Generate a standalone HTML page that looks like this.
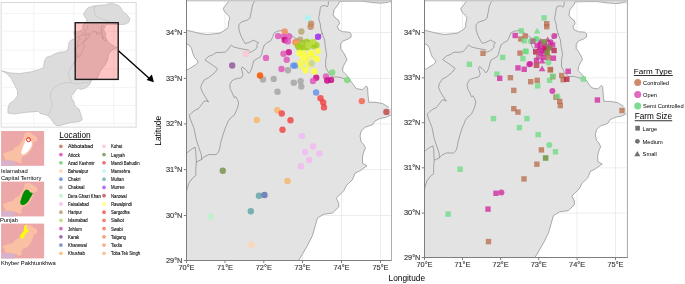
<!DOCTYPE html><html><head><meta charset="utf-8"><style>html,body{margin:0;padding:0;background:#fff;width:685px;height:284px;overflow:hidden}svg{display:block}text{font-family:"Liberation Sans",sans-serif}</style></head><body>
<svg width="685" height="284" viewBox="0 0 685 284">
<defs><clipPath id="cw"><polygon points="186.50,0.00 228.80,0.00 228.30,1.40 227.50,2.80 226.80,4.20 224.70,6.30 223.30,8.50 224.00,10.60 226.10,13.40 228.30,15.50 229.70,17.60 229.00,20.40 228.30,23.90 228.30,26.80 226.80,28.90 224.00,30.70 219.80,33.10 214.20,33.80 207.10,34.50 200.10,33.50 194.50,32.10 188.80,30.70 186.50,30.30"/><polygon points="186.50,44.00 189.00,44.80 191.30,48.00 192.70,53.00 194.50,57.50 197.50,60.50 198.00,62.50 195.50,64.80 192.00,67.00 188.50,69.20 186.50,70.00"/><polygon points="339.50,1.40 351.00,1.20 361.70,1.20 372.30,2.50 380.70,3.20 387.10,2.50 390.30,1.40 391.50,3.00 391.50,109.75 388.75,107.25 382.50,103.50 375.00,102.25 368.75,102.25 368.00,94.75 367.50,87.25 366.25,86.00 362.50,89.75 356.25,88.50 352.50,83.50 347.50,76.00 342.50,71.00 343.00,67.00 345.00,63.00 346.90,60.00 345.90,57.10 343.70,52.90 340.60,48.60 340.60,44.40 342.70,41.20 348.00,39.10 351.10,37.00 351.10,33.80 349.00,32.10 342.70,31.70 338.50,29.60 337.40,26.40 339.50,23.30 338.50,20.10 335.30,18.00 333.20,14.80 334.20,9.50 338.50,4.20"/><polygon points="391.50,114.75 386.25,117.25 380.00,118.50 375.00,121.00 372.50,124.75 365.00,127.25 361.25,131.00 360.00,136.00 361.25,142.00 363.75,144.50 365.50,148.25 363.75,152.00 362.50,157.00 362.50,163.25 367.00,165.75 360.00,170.75 355.00,173.25 352.50,179.50 346.25,185.75 343.75,190.75 336.25,198.25 338.75,203.25 338.75,207.00 332.50,213.00 323.75,214.25 317.50,218.00 312.50,235.50 307.50,245.50 299.00,260.00 391.50,260.00"/></clipPath><filter id="bl" x="0" y="0" width="685" height="284" filterUnits="userSpaceOnUse"><feGaussianBlur stdDeviation="0.35"/></filter></defs>
<g filter="url(#bl)">
<rect width="685" height="284" fill="#fff"/>
<g>
<rect x="186.5" y="0.0" width="205.0" height="260.0" fill="#E3E3E3"/>
<polygon points="186.50,0.00 228.80,0.00 228.30,1.40 227.50,2.80 226.80,4.20 224.70,6.30 223.30,8.50 224.00,10.60 226.10,13.40 228.30,15.50 229.70,17.60 229.00,20.40 228.30,23.90 228.30,26.80 226.80,28.90 224.00,30.70 219.80,33.10 214.20,33.80 207.10,34.50 200.10,33.50 194.50,32.10 188.80,30.70 186.50,30.30" fill="#FFFFFF"/>
<polygon points="186.50,44.00 189.00,44.80 191.30,48.00 192.70,53.00 194.50,57.50 197.50,60.50 198.00,62.50 195.50,64.80 192.00,67.00 188.50,69.20 186.50,70.00" fill="#FFFFFF"/>
<polygon points="339.50,1.40 351.00,1.20 361.70,1.20 372.30,2.50 380.70,3.20 387.10,2.50 390.30,1.40 391.50,3.00 391.50,109.75 388.75,107.25 382.50,103.50 375.00,102.25 368.75,102.25 368.00,94.75 367.50,87.25 366.25,86.00 362.50,89.75 356.25,88.50 352.50,83.50 347.50,76.00 342.50,71.00 343.00,67.00 345.00,63.00 346.90,60.00 345.90,57.10 343.70,52.90 340.60,48.60 340.60,44.40 342.70,41.20 348.00,39.10 351.10,37.00 351.10,33.80 349.00,32.10 342.70,31.70 338.50,29.60 337.40,26.40 339.50,23.30 338.50,20.10 335.30,18.00 333.20,14.80 334.20,9.50 338.50,4.20" fill="#FFFFFF"/>
<polygon points="391.50,114.75 386.25,117.25 380.00,118.50 375.00,121.00 372.50,124.75 365.00,127.25 361.25,131.00 360.00,136.00 361.25,142.00 363.75,144.50 365.50,148.25 363.75,152.00 362.50,157.00 362.50,163.25 367.00,165.75 360.00,170.75 355.00,173.25 352.50,179.50 346.25,185.75 343.75,190.75 336.25,198.25 338.75,203.25 338.75,207.00 332.50,213.00 323.75,214.25 317.50,218.00 312.50,235.50 307.50,245.50 299.00,260.00 391.50,260.00" fill="#FFFFFF"/>
<g clip-path="url(#cw)" stroke="#EBEBEB" stroke-width="0.9"><line x1="225.00" y1="0" x2="225.00" y2="260"/><line x1="263.80" y1="0" x2="263.80" y2="260"/><line x1="302.50" y1="0" x2="302.50" y2="260"/><line x1="341.50" y1="0" x2="341.50" y2="260"/><line x1="380.50" y1="0" x2="380.50" y2="260"/><line x1="186.5" y1="215.50" x2="391.5" y2="215.50"/><line x1="186.5" y1="169.60" x2="391.5" y2="169.60"/><line x1="186.5" y1="123.90" x2="391.5" y2="123.90"/><line x1="186.5" y1="78.40" x2="391.5" y2="78.40"/><line x1="186.5" y1="32.50" x2="391.5" y2="32.50"/></g>
<polyline points="228.80,0.00 228.30,1.40 227.50,2.80 226.80,4.20 224.70,6.30 223.30,8.50 224.00,10.60 226.10,13.40 228.30,15.50 229.70,17.60 229.00,20.40 228.30,23.90 228.30,26.80 226.80,28.90 224.00,30.70 219.80,33.10 214.20,33.80 207.10,34.50 200.10,33.50 194.50,32.10 188.80,30.70 186.50,30.30" fill="none" stroke="#6C6C6C" stroke-width="0.55"/>
<polyline points="186.50,44.00 189.00,44.80 191.30,48.00 192.70,53.00 194.50,57.50 197.50,60.50 198.00,62.50 195.50,64.80 192.00,67.00 188.50,69.20 186.50,70.00" fill="none" stroke="#6C6C6C" stroke-width="0.55"/>
<polyline points="339.50,1.40 351.00,1.20 361.70,1.20 372.30,2.50 380.70,3.20 387.10,2.50 390.30,1.40 391.50,3.00" fill="none" stroke="#6C6C6C" stroke-width="0.55"/>
<polyline points="388.75,107.25 382.50,103.50 375.00,102.25 368.75,102.25 368.00,94.75 367.50,87.25 366.25,86.00 362.50,89.75 356.25,88.50 352.50,83.50 347.50,76.00 342.50,71.00 343.00,67.00 345.00,63.00 346.90,60.00 345.90,57.10 343.70,52.90 340.60,48.60 340.60,44.40 342.70,41.20 348.00,39.10 351.10,37.00 351.10,33.80 349.00,32.10 342.70,31.70 338.50,29.60 337.40,26.40 339.50,23.30 338.50,20.10 335.30,18.00 333.20,14.80 334.20,9.50 338.50,4.20 339.50,1.40" fill="none" stroke="#6C6C6C" stroke-width="0.55"/>
<polyline points="391.50,114.75 386.25,117.25 380.00,118.50 375.00,121.00 372.50,124.75 365.00,127.25 361.25,131.00 360.00,136.00 361.25,142.00 363.75,144.50 365.50,148.25 363.75,152.00 362.50,157.00 362.50,163.25 367.00,165.75 360.00,170.75 355.00,173.25 352.50,179.50 346.25,185.75 343.75,190.75 336.25,198.25 338.75,203.25 338.75,207.00 332.50,213.00 323.75,214.25 317.50,218.00 312.50,235.50 307.50,245.50 299.00,260.00" fill="none" stroke="#6C6C6C" stroke-width="0.55"/>
<polyline points="255.00,0.50 252.50,5.00 251.20,12.00 250.00,18.00 247.50,20.00 241.20,22.00 238.70,25.00 239.10,30.30 240.80,35.60 243.50,40.80 245.20,43.50 248.80,42.60 252.30,40.80 254.00,40.00 255.80,41.70 258.50,42.60 256.70,45.20 257.20,47.00 256.30,48.50 252.80,51.20 248.40,52.90" fill="none" stroke="#6C6C6C" stroke-width="0.55"/>
<polyline points="205.00,60.00 208.75,56.25 212.50,55.00 216.25,52.50 221.25,52.50 225.50,52.00 228.20,49.40 229.90,46.80 231.25,45.00 233.75,47.00 236.10,47.60 239.60,48.50 244.90,49.40 249.30,50.30" fill="none" stroke="#6C6C6C" stroke-width="0.55"/>
<polyline points="205.00,60.00 208.75,62.50 212.50,65.00 217.50,68.75 215.00,72.50 208.75,77.50 204.20,80.00 201.60,84.40 200.70,87.90 202.50,92.30 205.10,96.70 208.60,102.00 206.00,100.80 204.20,101.10 201.60,104.60 198.10,109.00 195.40,109.90 191.90,112.60 189.30,115.20 190.20,118.70 191.90,123.10 193.70,127.50 194.40,130.00 196.30,139.90 198.80,147.30 201.30,154.60 201.70,159.50 203.70,157.10 208.60,154.60 216.00,154.60 218.50,152.20 219.70,148.50 220.50,143.60 222.20,137.40 224.50,130.00 226.30,125.80 228.00,121.40 230.70,117.90 234.20,115.20 235.90,111.70 237.70,107.30 238.60,102.90 237.70,100.20 235.90,96.70 234.20,97.60 232.40,93.20 230.10,88.80 229.90,84.60 231.70,81.10 234.30,79.30 237.80,78.50 241.40,77.60 243.10,74.90 242.20,71.40 241.40,68.80 242.20,67.00 244.90,68.80 246.60,70.50 248.40,73.20 250.20,72.30 251.90,67.90 252.80,64.40 253.70,60.80 256.30,59.10 259.90,57.30 261.60,54.70 262.50,50.30 264.30,45.00 267.30,42.60 270.80,40.80 272.50,37.30 274.30,32.90 277.60,31.10 283.00,30.50 288.00,33.00 292.60,36.40 295.20,38.20 297.90,39.10 296.00,42.00 295.20,45.20 297.00,48.80 297.90,51.40" fill="none" stroke="#6C6C6C" stroke-width="0.55"/>
<polyline points="186.50,153.40 188.90,151.00 192.60,148.50 195.10,147.30 195.80,151.00 196.30,162.00 195.80,169.40 195.80,175.60 192.60,178.10 188.90,183.00 187.00,189.20 186.50,191.60" fill="none" stroke="#6C6C6C" stroke-width="0.55"/>
<polyline points="196.30,162.00 201.70,159.50" fill="none" stroke="#6C6C6C" stroke-width="0.55"/>
<polyline points="328.50,1.00 328.20,5.00 326.90,7.00 325.40,5.50 321.40,6.00 320.30,8.00 319.80,12.00 319.30,15.00 318.70,17.50 319.00,20.00 320.30,24.00 320.60,28.00 321.40,31.00 322.20,33.00 323.00,36.00 324.60,40.00 325.00,45.00 326.70,54.60 325.70,60.30 325.70,67.30 329.20,73.50 332.70,77.00 338.00,77.00 342.00,78.00 345.50,79.00" fill="none" stroke="#6C6C6C" stroke-width="0.55"/>
<polyline points="322.20,33.00 318.00,37.50 313.00,41.00 308.00,40.50 303.00,41.00 297.90,39.10" fill="none" stroke="#6C6C6C" stroke-width="0.55"/>
<circle cx="245.8" cy="53.7" r="3.2" fill="#FFC2CE" fill-opacity="0.8"/>
<circle cx="232.2" cy="65.5" r="3.2" fill="#8E4E9E" fill-opacity="0.8"/>
<circle cx="266.0" cy="57.9" r="3.2" fill="#E04FB8" fill-opacity="0.8"/>
<circle cx="263.0" cy="79.5" r="3.2" fill="#A6A6A6" fill-opacity="0.85"/>
<circle cx="273.7" cy="78.9" r="3.2" fill="#A6A6A6" fill-opacity="0.85"/>
<circle cx="277.5" cy="91.7" r="3.2" fill="#A6A6A6" fill-opacity="0.85"/>
<circle cx="293.8" cy="82.7" r="3.2" fill="#A6A6A6" fill-opacity="0.85"/>
<circle cx="300.6" cy="81.3" r="3.2" fill="#A6A6A6" fill-opacity="0.85"/>
<circle cx="301.3" cy="86.6" r="3.2" fill="#A6A6A6" fill-opacity="0.85"/>
<circle cx="316.2" cy="77.7" r="3.2" fill="#C80E88" fill-opacity="0.85"/>
<circle cx="313.0" cy="81.0" r="3.2" fill="#E04FB8" fill-opacity="0.8"/>
<circle cx="326.0" cy="76.5" r="3.2" fill="#E04FB8" fill-opacity="0.8"/>
<circle cx="327.2" cy="80.5" r="3.2" fill="#C80E88" fill-opacity="0.85"/>
<circle cx="331.0" cy="79.9" r="3.2" fill="#C80E88" fill-opacity="0.85"/>
<circle cx="332.2" cy="72.4" r="3.2" fill="#74D874" fill-opacity="0.8"/>
<circle cx="347.2" cy="80.1" r="3.2" fill="#74D874" fill-opacity="0.8"/>
<circle cx="316.1" cy="92.5" r="3.2" fill="#5F8FE6" fill-opacity="0.8"/>
<circle cx="320.5" cy="98.2" r="3.2" fill="#F42C2C" fill-opacity="0.72"/>
<circle cx="323.2" cy="102.4" r="3.2" fill="#F42C2C" fill-opacity="0.72"/>
<circle cx="324.0" cy="107.4" r="3.2" fill="#F42C2C" fill-opacity="0.72"/>
<circle cx="277.3" cy="110.3" r="3.2" fill="#F8B464" fill-opacity="0.8"/>
<circle cx="281.8" cy="113.5" r="3.2" fill="#F42C2C" fill-opacity="0.72"/>
<circle cx="290.5" cy="120.2" r="3.2" fill="#F42C2C" fill-opacity="0.72"/>
<circle cx="256.8" cy="120.0" r="3.2" fill="#F8B464" fill-opacity="0.8"/>
<circle cx="282.5" cy="129.7" r="3.2" fill="#F42C2C" fill-opacity="0.72"/>
<circle cx="301.9" cy="136.0" r="3.2" fill="#F2B6F2" fill-opacity="0.8"/>
<circle cx="361.8" cy="101.1" r="3.2" fill="#F45E48" fill-opacity="0.8"/>
<circle cx="386.4" cy="111.9" r="3.2" fill="#BC4444" fill-opacity="0.8"/>
<circle cx="222.8" cy="170.8" r="3.2" fill="#728E4A" fill-opacity="0.8"/>
<circle cx="313.0" cy="146.5" r="3.2" fill="#F2B6F2" fill-opacity="0.8"/>
<circle cx="305.1" cy="152.0" r="3.2" fill="#F2B6F2" fill-opacity="0.8"/>
<circle cx="319.4" cy="153.5" r="3.2" fill="#F2B6F2" fill-opacity="0.8"/>
<circle cx="309.2" cy="160.0" r="3.2" fill="#F2B6F2" fill-opacity="0.8"/>
<circle cx="300.9" cy="166.2" r="3.2" fill="#F2B6F2" fill-opacity="0.8"/>
<circle cx="287.5" cy="181.0" r="3.2" fill="#F8B464" fill-opacity="0.8"/>
<circle cx="259.0" cy="195.8" r="3.2" fill="#58A4A4" fill-opacity="0.8"/>
<circle cx="264.5" cy="195.0" r="3.2" fill="#5A6EAE" fill-opacity="0.8"/>
<circle cx="250.8" cy="211.3" r="3.2" fill="#58A4A4" fill-opacity="0.8"/>
<circle cx="211.0" cy="216.8" r="3.2" fill="#B6F2C6" fill-opacity="0.8"/>
<circle cx="251.5" cy="244.8" r="3.2" fill="#FFD2AE" fill-opacity="0.8"/>
<circle cx="307.9" cy="17.9" r="3.2" fill="#A6F4F4" fill-opacity="0.8"/>
<circle cx="311.1" cy="23.7" r="3.2" fill="#C4865E" fill-opacity="0.8"/>
<circle cx="310.6" cy="26.7" r="3.2" fill="#C4865E" fill-opacity="0.8"/>
<circle cx="318.1" cy="36.8" r="3.2" fill="#9A1EF2" fill-opacity="0.8"/>
<circle cx="301.4" cy="31.5" r="3.2" fill="#B4A46A" fill-opacity="0.8"/>
<circle cx="300.2" cy="39.6" r="3.2" fill="#B4A46A" fill-opacity="0.8"/>
<circle cx="284.7" cy="31.5" r="3.2" fill="#F48C58" fill-opacity="0.8"/>
<circle cx="278.1" cy="36.1" r="3.2" fill="#E04FB8" fill-opacity="0.8"/>
<circle cx="283.8" cy="36.8" r="3.2" fill="#E04FB8" fill-opacity="0.8"/>
<circle cx="289.1" cy="36.4" r="3.2" fill="#E04FB8" fill-opacity="0.8"/>
<circle cx="284.7" cy="40.0" r="3.2" fill="#C80E88" fill-opacity="0.85"/>
<circle cx="287.8" cy="41.4" r="3.2" fill="#E04FB8" fill-opacity="0.8"/>
<circle cx="295.5" cy="42.3" r="3.2" fill="#F97A3A" fill-opacity="0.8"/>
<circle cx="297.0" cy="43.4" r="3.2" fill="#F8A060" fill-opacity="0.8"/>
<circle cx="293.3" cy="65.6" r="3.2" fill="#5F8FE6" fill-opacity="0.8"/>
<circle cx="295.4" cy="65.6" r="3.2" fill="#5F8FE6" fill-opacity="0.8"/>
<circle cx="287.9" cy="70.2" r="3.2" fill="#A6A6A6" fill-opacity="0.85"/>
<circle cx="281.5" cy="69.0" r="3.2" fill="#E04FB8" fill-opacity="0.8"/>
<circle cx="288.8" cy="52.2" r="3.2" fill="#C80E88" fill-opacity="0.85"/>
<circle cx="283.5" cy="53.8" r="3.2" fill="#E04FB8" fill-opacity="0.8"/>
<circle cx="286.7" cy="59.7" r="3.2" fill="#E04FB8" fill-opacity="0.8"/>
<circle cx="260.0" cy="75.5" r="3.2" fill="#FA5A00" fill-opacity="0.9"/>
<circle cx="297.9" cy="46.1" r="3.2" fill="#9CCC14" fill-opacity="0.75"/>
<circle cx="302.3" cy="43.5" r="3.2" fill="#9CCC14" fill-opacity="0.75"/>
<circle cx="306.7" cy="41.7" r="3.2" fill="#9CCC14" fill-opacity="0.75"/>
<circle cx="310.2" cy="44.4" r="3.2" fill="#9CCC14" fill-opacity="0.75"/>
<circle cx="313.7" cy="46.1" r="3.2" fill="#9CCC14" fill-opacity="0.75"/>
<circle cx="316.4" cy="45.2" r="3.2" fill="#9CCC14" fill-opacity="0.75"/>
<circle cx="304" cy="47.9" r="3.2" fill="#9CCC14" fill-opacity="0.75"/>
<circle cx="307.6" cy="47" r="3.2" fill="#9CCC14" fill-opacity="0.75"/>
<circle cx="300.5" cy="47.9" r="3.2" fill="#9CCC14" fill-opacity="0.75"/>
<circle cx="313.5" cy="43" r="3.2" fill="#9CCC14" fill-opacity="0.75"/>
<circle cx="312.9" cy="41.7" r="3.2" fill="#C4DE48" fill-opacity="0.8"/>
<circle cx="308.5" cy="45.5" r="3.2" fill="#C4DE48" fill-opacity="0.8"/>
<circle cx="300.2" cy="62.6" r="3.2" fill="#F8F84E" fill-opacity="0.8"/>
<circle cx="306.4" cy="61.7" r="3.2" fill="#F8F84E" fill-opacity="0.8"/>
<circle cx="301.1" cy="66.1" r="3.2" fill="#F8F84E" fill-opacity="0.8"/>
<circle cx="307" cy="57" r="3.2" fill="#F8F84E" fill-opacity="0.8"/>
<circle cx="309" cy="65" r="3.2" fill="#F8F84E" fill-opacity="0.8"/>
<circle cx="304" cy="53" r="3.2" fill="#F8F84E" fill-opacity="0.8"/>
<circle cx="313" cy="56.5" r="3.2" fill="#F8F84E" fill-opacity="0.8"/>
<circle cx="311.7" cy="63.5" r="3.2" fill="#C6D88A" fill-opacity="0.9"/>
<circle cx="299.4" cy="52.9" r="3.2" fill="#FFFF30" fill-opacity="0.8"/>
<circle cx="302.9" cy="57.3" r="3.2" fill="#FFFF30" fill-opacity="0.8"/>
<circle cx="310.8" cy="52.9" r="3.2" fill="#FFFF30" fill-opacity="0.8"/>
<circle cx="317.9" cy="51.1" r="3.2" fill="#FFFF30" fill-opacity="0.8"/>
<circle cx="317" cy="59" r="3.2" fill="#FFFF30" fill-opacity="0.8"/>
<circle cx="305.5" cy="70.5" r="3.2" fill="#FFFF30" fill-opacity="0.8"/>
<circle cx="314.3" cy="71.4" r="3.2" fill="#FFFF30" fill-opacity="0.8"/>
</g>
<rect x="186" y="0" width="206" height="1.4" fill="#C8C8C8"/>
<rect x="391" y="0" width="1" height="260.5" fill="#AEAEAE"/>
<rect x="186" y="0" width="1" height="261" fill="#7E7E7E"/>
<rect x="186" y="260" width="205.5" height="1" fill="#7E7E7E"/>
<rect x="186.00" y="260.5" width="1" height="2.6" fill="#7E7E7E"/>
<text x="186.50" y="269.9" font-size="7.35" fill="#383838" stroke="#383838" stroke-width="0.15" text-anchor="middle">70°E</text>
<rect x="224.50" y="260.5" width="1" height="2.6" fill="#7E7E7E"/>
<text x="225.00" y="269.9" font-size="7.35" fill="#383838" stroke="#383838" stroke-width="0.15" text-anchor="middle">71°E</text>
<rect x="263.30" y="260.5" width="1" height="2.6" fill="#7E7E7E"/>
<text x="263.80" y="269.9" font-size="7.35" fill="#383838" stroke="#383838" stroke-width="0.15" text-anchor="middle">72°E</text>
<rect x="302.00" y="260.5" width="1" height="2.6" fill="#7E7E7E"/>
<text x="302.50" y="269.9" font-size="7.35" fill="#383838" stroke="#383838" stroke-width="0.15" text-anchor="middle">73°E</text>
<rect x="341.00" y="260.5" width="1" height="2.6" fill="#7E7E7E"/>
<text x="341.50" y="269.9" font-size="7.35" fill="#383838" stroke="#383838" stroke-width="0.15" text-anchor="middle">74°E</text>
<rect x="380.00" y="260.5" width="1" height="2.6" fill="#7E7E7E"/>
<text x="380.50" y="269.9" font-size="7.35" fill="#383838" stroke="#383838" stroke-width="0.15" text-anchor="middle">75°E</text>
<rect x="183.8" y="260.00" width="2.7" height="1" fill="#7E7E7E"/>
<text x="182.4" y="262.60" font-size="7.35" fill="#383838" stroke="#383838" stroke-width="0.15" text-anchor="end">29°N</text>
<rect x="183.8" y="215.00" width="2.7" height="1" fill="#7E7E7E"/>
<text x="182.4" y="217.60" font-size="7.35" fill="#383838" stroke="#383838" stroke-width="0.15" text-anchor="end">30°N</text>
<rect x="183.8" y="169.10" width="2.7" height="1" fill="#7E7E7E"/>
<text x="182.4" y="171.70" font-size="7.35" fill="#383838" stroke="#383838" stroke-width="0.15" text-anchor="end">31°N</text>
<rect x="183.8" y="123.40" width="2.7" height="1" fill="#7E7E7E"/>
<text x="182.4" y="126.00" font-size="7.35" fill="#383838" stroke="#383838" stroke-width="0.15" text-anchor="end">32°N</text>
<rect x="183.8" y="77.90" width="2.7" height="1" fill="#7E7E7E"/>
<text x="182.4" y="80.50" font-size="7.35" fill="#383838" stroke="#383838" stroke-width="0.15" text-anchor="end">33°N</text>
<rect x="183.8" y="32.00" width="2.7" height="1" fill="#7E7E7E"/>
<text x="182.4" y="34.60" font-size="7.35" fill="#383838" stroke="#383838" stroke-width="0.15" text-anchor="end">34°N</text>
<g transform="translate(424.5,257.5) scale(0.9845,0.9868) translate(-186.5,-260.5)">
<rect x="186.5" y="0.0" width="205.0" height="260.0" fill="#E3E3E3"/>
<polygon points="186.50,0.00 228.80,0.00 228.30,1.40 227.50,2.80 226.80,4.20 224.70,6.30 223.30,8.50 224.00,10.60 226.10,13.40 228.30,15.50 229.70,17.60 229.00,20.40 228.30,23.90 228.30,26.80 226.80,28.90 224.00,30.70 219.80,33.10 214.20,33.80 207.10,34.50 200.10,33.50 194.50,32.10 188.80,30.70 186.50,30.30" fill="#FFFFFF"/>
<polygon points="186.50,44.00 189.00,44.80 191.30,48.00 192.70,53.00 194.50,57.50 197.50,60.50 198.00,62.50 195.50,64.80 192.00,67.00 188.50,69.20 186.50,70.00" fill="#FFFFFF"/>
<polygon points="339.50,1.40 351.00,1.20 361.70,1.20 372.30,2.50 380.70,3.20 387.10,2.50 390.30,1.40 391.50,3.00 391.50,109.75 388.75,107.25 382.50,103.50 375.00,102.25 368.75,102.25 368.00,94.75 367.50,87.25 366.25,86.00 362.50,89.75 356.25,88.50 352.50,83.50 347.50,76.00 342.50,71.00 343.00,67.00 345.00,63.00 346.90,60.00 345.90,57.10 343.70,52.90 340.60,48.60 340.60,44.40 342.70,41.20 348.00,39.10 351.10,37.00 351.10,33.80 349.00,32.10 342.70,31.70 338.50,29.60 337.40,26.40 339.50,23.30 338.50,20.10 335.30,18.00 333.20,14.80 334.20,9.50 338.50,4.20" fill="#FFFFFF"/>
<polygon points="391.50,114.75 386.25,117.25 380.00,118.50 375.00,121.00 372.50,124.75 365.00,127.25 361.25,131.00 360.00,136.00 361.25,142.00 363.75,144.50 365.50,148.25 363.75,152.00 362.50,157.00 362.50,163.25 367.00,165.75 360.00,170.75 355.00,173.25 352.50,179.50 346.25,185.75 343.75,190.75 336.25,198.25 338.75,203.25 338.75,207.00 332.50,213.00 323.75,214.25 317.50,218.00 312.50,235.50 307.50,245.50 299.00,260.00 391.50,260.00" fill="#FFFFFF"/>
<g clip-path="url(#cw)" stroke="#EBEBEB" stroke-width="0.9"><line x1="225.00" y1="0" x2="225.00" y2="260"/><line x1="263.80" y1="0" x2="263.80" y2="260"/><line x1="302.50" y1="0" x2="302.50" y2="260"/><line x1="341.50" y1="0" x2="341.50" y2="260"/><line x1="380.50" y1="0" x2="380.50" y2="260"/><line x1="186.5" y1="215.50" x2="391.5" y2="215.50"/><line x1="186.5" y1="169.60" x2="391.5" y2="169.60"/><line x1="186.5" y1="123.90" x2="391.5" y2="123.90"/><line x1="186.5" y1="78.40" x2="391.5" y2="78.40"/><line x1="186.5" y1="32.50" x2="391.5" y2="32.50"/></g>
<polyline points="228.80,0.00 228.30,1.40 227.50,2.80 226.80,4.20 224.70,6.30 223.30,8.50 224.00,10.60 226.10,13.40 228.30,15.50 229.70,17.60 229.00,20.40 228.30,23.90 228.30,26.80 226.80,28.90 224.00,30.70 219.80,33.10 214.20,33.80 207.10,34.50 200.10,33.50 194.50,32.10 188.80,30.70 186.50,30.30" fill="none" stroke="#6C6C6C" stroke-width="0.55"/>
<polyline points="186.50,44.00 189.00,44.80 191.30,48.00 192.70,53.00 194.50,57.50 197.50,60.50 198.00,62.50 195.50,64.80 192.00,67.00 188.50,69.20 186.50,70.00" fill="none" stroke="#6C6C6C" stroke-width="0.55"/>
<polyline points="339.50,1.40 351.00,1.20 361.70,1.20 372.30,2.50 380.70,3.20 387.10,2.50 390.30,1.40 391.50,3.00" fill="none" stroke="#6C6C6C" stroke-width="0.55"/>
<polyline points="388.75,107.25 382.50,103.50 375.00,102.25 368.75,102.25 368.00,94.75 367.50,87.25 366.25,86.00 362.50,89.75 356.25,88.50 352.50,83.50 347.50,76.00 342.50,71.00 343.00,67.00 345.00,63.00 346.90,60.00 345.90,57.10 343.70,52.90 340.60,48.60 340.60,44.40 342.70,41.20 348.00,39.10 351.10,37.00 351.10,33.80 349.00,32.10 342.70,31.70 338.50,29.60 337.40,26.40 339.50,23.30 338.50,20.10 335.30,18.00 333.20,14.80 334.20,9.50 338.50,4.20 339.50,1.40" fill="none" stroke="#6C6C6C" stroke-width="0.55"/>
<polyline points="391.50,114.75 386.25,117.25 380.00,118.50 375.00,121.00 372.50,124.75 365.00,127.25 361.25,131.00 360.00,136.00 361.25,142.00 363.75,144.50 365.50,148.25 363.75,152.00 362.50,157.00 362.50,163.25 367.00,165.75 360.00,170.75 355.00,173.25 352.50,179.50 346.25,185.75 343.75,190.75 336.25,198.25 338.75,203.25 338.75,207.00 332.50,213.00 323.75,214.25 317.50,218.00 312.50,235.50 307.50,245.50 299.00,260.00" fill="none" stroke="#6C6C6C" stroke-width="0.55"/>
<polyline points="255.00,0.50 252.50,5.00 251.20,12.00 250.00,18.00 247.50,20.00 241.20,22.00 238.70,25.00 239.10,30.30 240.80,35.60 243.50,40.80 245.20,43.50 248.80,42.60 252.30,40.80 254.00,40.00 255.80,41.70 258.50,42.60 256.70,45.20 257.20,47.00 256.30,48.50 252.80,51.20 248.40,52.90" fill="none" stroke="#6C6C6C" stroke-width="0.55"/>
<polyline points="205.00,60.00 208.75,56.25 212.50,55.00 216.25,52.50 221.25,52.50 225.50,52.00 228.20,49.40 229.90,46.80 231.25,45.00 233.75,47.00 236.10,47.60 239.60,48.50 244.90,49.40 249.30,50.30" fill="none" stroke="#6C6C6C" stroke-width="0.55"/>
<polyline points="205.00,60.00 208.75,62.50 212.50,65.00 217.50,68.75 215.00,72.50 208.75,77.50 204.20,80.00 201.60,84.40 200.70,87.90 202.50,92.30 205.10,96.70 208.60,102.00 206.00,100.80 204.20,101.10 201.60,104.60 198.10,109.00 195.40,109.90 191.90,112.60 189.30,115.20 190.20,118.70 191.90,123.10 193.70,127.50 194.40,130.00 196.30,139.90 198.80,147.30 201.30,154.60 201.70,159.50 203.70,157.10 208.60,154.60 216.00,154.60 218.50,152.20 219.70,148.50 220.50,143.60 222.20,137.40 224.50,130.00 226.30,125.80 228.00,121.40 230.70,117.90 234.20,115.20 235.90,111.70 237.70,107.30 238.60,102.90 237.70,100.20 235.90,96.70 234.20,97.60 232.40,93.20 230.10,88.80 229.90,84.60 231.70,81.10 234.30,79.30 237.80,78.50 241.40,77.60 243.10,74.90 242.20,71.40 241.40,68.80 242.20,67.00 244.90,68.80 246.60,70.50 248.40,73.20 250.20,72.30 251.90,67.90 252.80,64.40 253.70,60.80 256.30,59.10 259.90,57.30 261.60,54.70 262.50,50.30 264.30,45.00 267.30,42.60 270.80,40.80 272.50,37.30 274.30,32.90 277.60,31.10 283.00,30.50 288.00,33.00 292.60,36.40 295.20,38.20 297.90,39.10 296.00,42.00 295.20,45.20 297.00,48.80 297.90,51.40" fill="none" stroke="#6C6C6C" stroke-width="0.55"/>
<polyline points="186.50,153.40 188.90,151.00 192.60,148.50 195.10,147.30 195.80,151.00 196.30,162.00 195.80,169.40 195.80,175.60 192.60,178.10 188.90,183.00 187.00,189.20 186.50,191.60" fill="none" stroke="#6C6C6C" stroke-width="0.55"/>
<polyline points="196.30,162.00 201.70,159.50" fill="none" stroke="#6C6C6C" stroke-width="0.55"/>
<polyline points="328.50,1.00 328.20,5.00 326.90,7.00 325.40,5.50 321.40,6.00 320.30,8.00 319.80,12.00 319.30,15.00 318.70,17.50 319.00,20.00 320.30,24.00 320.60,28.00 321.40,31.00 322.20,33.00 323.00,36.00 324.60,40.00 325.00,45.00 326.70,54.60 325.70,60.30 325.70,67.30 329.20,73.50 332.70,77.00 338.00,77.00 342.00,78.00 345.50,79.00" fill="none" stroke="#6C6C6C" stroke-width="0.55"/>
<polyline points="322.20,33.00 318.00,37.50 313.00,41.00 308.00,40.50 303.00,41.00 297.90,39.10" fill="none" stroke="#6C6C6C" stroke-width="0.55"/>
</g>
<rect x="480.30" y="50.60" width="5.4" height="5.4" fill="#B86A48" fill-opacity="0.75"/>
<rect x="466.70" y="61.60" width="5.4" height="5.4" fill="#6ADB80" fill-opacity="0.75"/>
<rect x="500.00" y="54.70" width="5.4" height="5.4" fill="#6ADB80" fill-opacity="0.75"/>
<rect x="494.20" y="71.40" width="5.4" height="5.4" fill="#6ADB80" fill-opacity="0.75"/>
<rect x="497.00" y="75.60" width="5.4" height="5.4" fill="#D0209C" fill-opacity="0.75"/>
<rect x="507.70" y="75.00" width="5.4" height="5.4" fill="#B86A48" fill-opacity="0.75"/>
<rect x="511.10" y="87.70" width="5.4" height="5.4" fill="#B86A48" fill-opacity="0.75"/>
<rect x="515.30" y="65.20" width="5.4" height="5.4" fill="#D0209C" fill-opacity="0.75"/>
<rect x="521.50" y="66.60" width="5.4" height="5.4" fill="#D0209C" fill-opacity="0.75"/>
<circle cx="529.3" cy="64.2" r="3" fill="#D0209C" fill-opacity="0.75"/>
<rect x="528.00" y="79.00" width="5.4" height="5.4" fill="#B86A48" fill-opacity="0.75"/>
<rect x="534.50" y="77.60" width="5.4" height="5.4" fill="#B86A48" fill-opacity="0.75"/>
<rect x="535.00" y="83.20" width="5.4" height="5.4" fill="#6ADB80" fill-opacity="0.75"/>
<rect x="546.90" y="77.60" width="5.4" height="5.4" fill="#6ADB80" fill-opacity="0.75"/>
<rect x="547.60" y="67.20" width="5.4" height="5.4" fill="#B86A48" fill-opacity="0.75"/>
<rect x="550.10" y="74.00" width="5.4" height="5.4" fill="#B86A48" fill-opacity="0.75"/>
<rect x="550.00" y="73.60" width="5.4" height="5.4" fill="#6ADB80" fill-opacity="0.75"/>
<circle cx="552.4" cy="91.0" r="3" fill="#D0209C" fill-opacity="0.75"/>
<rect x="553.30" y="94.50" width="5.4" height="5.4" fill="#B86A48" fill-opacity="0.75"/>
<circle cx="557.5" cy="96.6" r="3" fill="#6ADB80" fill-opacity="0.75"/>
<rect x="557.00" y="98.70" width="5.4" height="5.4" fill="#B86A48" fill-opacity="0.75"/>
<rect x="557.60" y="102.90" width="5.4" height="5.4" fill="#B86A48" fill-opacity="0.75"/>
<rect x="559.00" y="72.80" width="5.4" height="5.4" fill="#B86A48" fill-opacity="0.75"/>
<rect x="560.40" y="77.00" width="5.4" height="5.4" fill="#B86A48" fill-opacity="0.75"/>
<rect x="564.10" y="76.50" width="5.4" height="5.4" fill="#B8163E" fill-opacity="0.75"/>
<rect x="565.50" y="68.60" width="5.4" height="5.4" fill="#D0209C" fill-opacity="0.75"/>
<rect x="580.70" y="76.40" width="5.4" height="5.4" fill="#6ADB80" fill-opacity="0.75"/>
<rect x="594.70" y="97.30" width="5.4" height="5.4" fill="#D0209C" fill-opacity="0.75"/>
<rect x="619.30" y="107.80" width="5.4" height="5.4" fill="#B86A48" fill-opacity="0.75"/>
<rect x="511.10" y="106.00" width="5.4" height="5.4" fill="#B86A48" fill-opacity="0.75"/>
<rect x="515.30" y="109.40" width="5.4" height="5.4" fill="#B86A48" fill-opacity="0.75"/>
<rect x="524.30" y="115.90" width="5.4" height="5.4" fill="#6ADB80" fill-opacity="0.75"/>
<rect x="490.80" y="115.90" width="5.4" height="5.4" fill="#6ADB80" fill-opacity="0.75"/>
<rect x="516.70" y="124.90" width="5.4" height="5.4" fill="#6ADB80" fill-opacity="0.75"/>
<rect x="535.50" y="131.90" width="5.4" height="5.4" fill="#6ADB80" fill-opacity="0.75"/>
<rect x="457.40" y="166.50" width="5.4" height="5.4" fill="#6ADB80" fill-opacity="0.75"/>
<circle cx="549.3" cy="144.9" r="3" fill="#6ADB80" fill-opacity="0.75"/>
<rect x="538.70" y="147.20" width="5.4" height="5.4" fill="#B86A48" fill-opacity="0.75"/>
<rect x="552.80" y="149.10" width="5.4" height="5.4" fill="#6ADB80" fill-opacity="0.75"/>
<rect x="542.90" y="155.30" width="5.4" height="5.4" fill="#6ADB80" fill-opacity="0.75"/>
<rect x="542.90" y="155.30" width="5.4" height="5.4" fill="#7E8E40" fill-opacity="0.75"/>
<rect x="534.20" y="161.50" width="5.4" height="5.4" fill="#B86A48" fill-opacity="0.75"/>
<rect x="521.30" y="176.20" width="5.4" height="5.4" fill="#B86A48" fill-opacity="0.75"/>
<rect x="493.30" y="190.60" width="5.4" height="5.4" fill="#D0209C" fill-opacity="0.75"/>
<circle cx="501.4" cy="192.5" r="3" fill="#D0209C" fill-opacity="0.75"/>
<rect x="485.30" y="206.40" width="5.4" height="5.4" fill="#D0209C" fill-opacity="0.75"/>
<rect x="445.40" y="211.40" width="5.4" height="5.4" fill="#6ADB80" fill-opacity="0.75"/>
<rect x="485.80" y="238.90" width="5.4" height="5.4" fill="#B86A48" fill-opacity="0.75"/>
<rect x="541.40" y="15.20" width="5.4" height="5.4" fill="#6ADB80" fill-opacity="0.75"/>
<rect x="544.00" y="21.00" width="5.4" height="5.4" fill="#B86A48" fill-opacity="0.75"/>
<rect x="544.00" y="24.00" width="5.4" height="5.4" fill="#B86A48" fill-opacity="0.75"/>
<polygon points="537.20,27.80 540.50,33.60 533.90,33.60" fill="#6ADB80" fill-opacity="0.75"/>
<rect x="518.50" y="28.10" width="5.4" height="5.4" fill="#6ADB80" fill-opacity="0.75"/>
<rect x="512.50" y="32.80" width="5.4" height="5.4" fill="#D0209C" fill-opacity="0.75"/>
<rect x="522.50" y="33.40" width="5.4" height="5.4" fill="#B86A48" fill-opacity="0.75"/>
<rect x="518.10" y="36.30" width="5.4" height="5.4" fill="#B86A48" fill-opacity="0.75"/>
<rect x="521.70" y="38.10" width="5.4" height="5.4" fill="#6ADB80" fill-opacity="0.75"/>
<circle cx="536.7" cy="39.0" r="3" fill="#6ADB80" fill-opacity="0.75"/>
<circle cx="554.3" cy="36.1" r="3" fill="#D0209C" fill-opacity="0.75"/>
<rect x="517.30" y="50.40" width="5.4" height="5.4" fill="#B86A48" fill-opacity="0.75"/>
<rect x="523.10" y="48.70" width="5.4" height="5.4" fill="#6ADB80" fill-opacity="0.75"/>
<rect x="523.10" y="48.70" width="5.4" height="5.4" fill="#6ADB80" fill-opacity="0.75"/>
<rect x="520.20" y="55.90" width="5.4" height="5.4" fill="#6ADB80" fill-opacity="0.75"/>
<circle cx="530.8" cy="41.3" r="3" fill="#6ADB80" fill-opacity="0.75"/>
<circle cx="535.7" cy="39.2" r="3" fill="#6ADB80" fill-opacity="0.75"/>
<rect x="530.20" y="38.60" width="5.4" height="5.4" fill="#B85A8A" fill-opacity="0.75"/>
<polygon points="540.70,37.90 544.00,43.70 537.40,43.70" fill="#D0209C" fill-opacity="0.75"/>
<polygon points="547.70,36.50 551.00,42.30 544.40,42.30" fill="#D0209C" fill-opacity="0.75"/>
<rect x="541.50" y="39.30" width="5.4" height="5.4" fill="#B86A48" fill-opacity="0.75"/>
<rect x="541.50" y="39.30" width="5.4" height="5.4" fill="#6ADB80" fill-opacity="0.75"/>
<rect x="534.50" y="42.90" width="5.4" height="5.4" fill="#D0209C" fill-opacity="0.75"/>
<rect x="549.90" y="42.20" width="5.4" height="5.4" fill="#D0209C" fill-opacity="0.75"/>
<polygon points="543.50,43.60 546.80,49.40 540.20,49.40" fill="#D0209C" fill-opacity="0.75"/>
<polygon points="539.50,44.10 542.80,49.90 536.20,49.90" fill="#D0209C" fill-opacity="0.75"/>
<rect x="546.40" y="45.00" width="5.4" height="5.4" fill="#7E8E40" fill-opacity="0.75"/>
<rect x="533.00" y="49.20" width="5.4" height="5.4" fill="#B8163E" fill-opacity="0.75"/>
<rect x="551.40" y="47.80" width="5.4" height="5.4" fill="#B8163E" fill-opacity="0.75"/>
<rect x="544.30" y="49.90" width="5.4" height="5.4" fill="#7E8E40" fill-opacity="0.75"/>
<rect x="535.90" y="54.10" width="5.4" height="5.4" fill="#B85A8A" fill-opacity="0.75"/>
<rect x="540.80" y="54.80" width="5.4" height="5.4" fill="#D0209C" fill-opacity="0.75"/>
<rect x="545.70" y="54.80" width="5.4" height="5.4" fill="#B86A48" fill-opacity="0.75"/>
<rect x="550.70" y="55.50" width="5.4" height="5.4" fill="#D0209C" fill-opacity="0.75"/>
<circle cx="548.4" cy="62.5" r="3" fill="#6ADB80" fill-opacity="0.75"/>
<polygon points="542.10,57.70 545.40,63.50 538.80,63.50" fill="#D0209C" fill-opacity="0.75"/>
<rect x="533.80" y="57.70" width="5.4" height="5.4" fill="#D0209C" fill-opacity="0.75"/>
<circle cx="530.1" cy="63.9" r="3" fill="#D0209C" fill-opacity="0.75"/>
<rect x="533.80" y="62.60" width="5.4" height="5.4" fill="#D0209C" fill-opacity="0.75"/>
<rect x="533.80" y="62.60" width="5.4" height="5.4" fill="#B86A48" fill-opacity="0.75"/>
<polygon points="542.10,65.40 545.40,71.20 538.80,71.20" fill="#D0209C" fill-opacity="0.75"/>
<rect x="547.80" y="66.80" width="5.4" height="5.4" fill="#B86A48" fill-opacity="0.75"/>
<polygon points="544.00,47.60 547.30,53.40 540.70,53.40" fill="#D0209C" fill-opacity="0.75"/>
<rect x="538.30" y="50.30" width="5.4" height="5.4" fill="#D0209C" fill-opacity="0.75"/>
<rect x="547.80" y="39.80" width="5.4" height="5.4" fill="#D0209C" fill-opacity="0.75"/>
<rect x="537.80" y="41.80" width="5.4" height="5.4" fill="#D0209C" fill-opacity="0.75"/>
<rect x="542.80" y="45.80" width="5.4" height="5.4" fill="#B8163E" fill-opacity="0.75"/>
<rect x="538.30" y="47.80" width="5.4" height="5.4" fill="#D0209C" fill-opacity="0.75"/>
<polygon points="546.00,41.10 549.30,46.90 542.70,46.90" fill="#D0209C" fill-opacity="0.75"/>
<polygon points="550.00,43.60 553.30,49.40 546.70,49.40" fill="#D0209C" fill-opacity="0.75"/>
<rect x="541.50" y="39.30" width="5.4" height="5.4" fill="#7E8E40" fill-opacity="0.75"/>
<rect x="546.40" y="45.00" width="5.4" height="5.4" fill="#7E8E40" fill-opacity="0.75"/>
<rect x="544.30" y="49.90" width="5.4" height="5.4" fill="#7E8E40" fill-opacity="0.75"/>
<rect x="424" y="0" width="204" height="1.4" fill="#C8C8C8"/>
<rect x="627" y="0" width="1" height="258" fill="#AEAEAE"/>
<rect x="424" y="0" width="1" height="258" fill="#7E7E7E"/>
<rect x="424" y="257" width="203.5" height="1" fill="#7E7E7E"/>
<rect x="424.00" y="257.5" width="1" height="2.6" fill="#7E7E7E"/>
<text x="424.50" y="266.9" font-size="7.35" fill="#383838" stroke="#383838" stroke-width="0.15" text-anchor="middle">70°E</text>
<rect x="461.90" y="257.5" width="1" height="2.6" fill="#7E7E7E"/>
<text x="462.40" y="266.9" font-size="7.35" fill="#383838" stroke="#383838" stroke-width="0.15" text-anchor="middle">71°E</text>
<rect x="500.10" y="257.5" width="1" height="2.6" fill="#7E7E7E"/>
<text x="500.60" y="266.9" font-size="7.35" fill="#383838" stroke="#383838" stroke-width="0.15" text-anchor="middle">72°E</text>
<rect x="538.20" y="257.5" width="1" height="2.6" fill="#7E7E7E"/>
<text x="538.70" y="266.9" font-size="7.35" fill="#383838" stroke="#383838" stroke-width="0.15" text-anchor="middle">73°E</text>
<rect x="576.60" y="257.5" width="1" height="2.6" fill="#7E7E7E"/>
<text x="577.10" y="266.9" font-size="7.35" fill="#383838" stroke="#383838" stroke-width="0.15" text-anchor="middle">74°E</text>
<rect x="614.99" y="257.5" width="1" height="2.6" fill="#7E7E7E"/>
<text x="615.49" y="266.9" font-size="7.35" fill="#383838" stroke="#383838" stroke-width="0.15" text-anchor="middle">75°E</text>
<rect x="421.8" y="257.00" width="2.7" height="1" fill="#7E7E7E"/>
<text x="420.4" y="259.60" font-size="7.35" fill="#383838" stroke="#383838" stroke-width="0.15" text-anchor="end">29°N</text>
<rect x="421.8" y="212.59" width="2.7" height="1" fill="#7E7E7E"/>
<text x="420.4" y="215.19" font-size="7.35" fill="#383838" stroke="#383838" stroke-width="0.15" text-anchor="end">30°N</text>
<rect x="421.8" y="167.30" width="2.7" height="1" fill="#7E7E7E"/>
<text x="420.4" y="169.90" font-size="7.35" fill="#383838" stroke="#383838" stroke-width="0.15" text-anchor="end">31°N</text>
<rect x="421.8" y="122.20" width="2.7" height="1" fill="#7E7E7E"/>
<text x="420.4" y="124.80" font-size="7.35" fill="#383838" stroke="#383838" stroke-width="0.15" text-anchor="end">32°N</text>
<rect x="421.8" y="77.30" width="2.7" height="1" fill="#7E7E7E"/>
<text x="420.4" y="79.90" font-size="7.35" fill="#383838" stroke="#383838" stroke-width="0.15" text-anchor="end">33°N</text>
<rect x="421.8" y="32.01" width="2.7" height="1" fill="#7E7E7E"/>
<text x="420.4" y="34.61" font-size="7.35" fill="#383838" stroke="#383838" stroke-width="0.15" text-anchor="end">34°N</text>
<text x="406.8" y="281" font-size="8.3" fill="#000" text-anchor="middle">Longitude</text>
<text transform="translate(161.1,130.8) rotate(-90)" font-size="8.45" fill="#000" text-anchor="middle">Latitude</text>
<text x="633.8" y="74" font-size="8.1" fill="#000">Farm Type</text>
<rect x="633.8" y="75" width="39" height="0.8" fill="#000"/>
<circle cx="637.7" cy="82.6" r="3.5" fill="#CD8C69"/>
<text x="643.1" y="84.6" font-size="5.7" fill="#000">Controlled</text>
<circle cx="637.7" cy="94.6" r="3.5" fill="#E169BE"/>
<text x="643.1" y="96.6" font-size="5.7" fill="#000">Open</text>
<circle cx="637.7" cy="106" r="3.5" fill="#7DDC91"/>
<text x="643.1" y="108.0" font-size="5.7" fill="#000">Semi Controlled</text>
<text x="634.7" y="119.4" font-size="8.2" fill="#000">Farm Size</text>
<rect x="634.7" y="120.4" width="37.5" height="0.8" fill="#000"/>
<rect x="635.3" y="125.8" width="4.6" height="4.8" fill="#707070"/>
<text x="642.6" y="130.9" font-size="5.7" fill="#000">Large</text>
<circle cx="637.4" cy="141.3" r="2.4" fill="#707070"/>
<text x="642.6" y="143.6" font-size="5.7" fill="#000">Medium</text>
<polygon points="637.3,150.9 640.3,156.3 634.3,156.3" fill="#707070"/>
<text x="642.6" y="155.9" font-size="5.7" fill="#000">Small</text>
<rect x="1.1" y="2.5" width="135" height="124.6" fill="#fff" stroke="#D0D0D0" stroke-width="0.8"/>
<g stroke="#EFEFEF" stroke-width="0.7">
<line x1="33.8" y1="2.9" x2="33.8" y2="126.8"/>
<line x1="73.8" y1="2.9" x2="73.8" y2="126.8"/>
<line x1="113.7" y1="2.9" x2="113.7" y2="126.8"/>
<line x1="1.5" y1="13.4" x2="135.7" y2="13.4"/>
<line x1="1.5" y1="31.3" x2="135.7" y2="31.3"/>
<line x1="1.5" y1="50.1" x2="135.7" y2="50.1"/>
<line x1="1.5" y1="68.9" x2="135.7" y2="68.9"/>
<line x1="1.5" y1="87.4" x2="135.7" y2="87.4"/>
<line x1="1.5" y1="105.5" x2="135.7" y2="105.5"/>
<line x1="1.5" y1="123.7" x2="135.7" y2="123.7"/>
</g>
<polygon points="110.00,3.50 114.00,3.90 118.40,5.30 121.00,7.90 122.80,11.40 126.30,14.10 129.90,18.50 129.00,22.00 126.30,23.80 122.80,24.60 119.00,24.50 112.00,24.30 106.50,24.30 105.10,26.50 103.70,29.30 104.40,31.40 105.80,33.50 105.10,36.30 106.50,39.10 108.60,42.60 112.80,45.50 115.00,46.90 117.10,47.60 116.20,48.50 114.00,49.00 110.00,51.80 108.50,55.00 107.50,60.00 104.80,65.60 101.00,69.70 99.00,74.00 97.20,78.40 94.00,79.60 91.80,79.50 89.70,84.80 85.50,88.00 81.20,89.50 78.10,88.00 75.90,90.10 73.80,93.30 71.70,95.40 71.70,98.50 73.80,101.70 74.90,106.00 79.10,109.10 81.20,115.50 82.30,119.70 79.10,121.80 71.70,122.40 65.40,123.90 59.00,126.00 55.90,125.40 53.70,122.90 50.60,118.60 47.40,115.50 44.20,114.40 40.00,113.30 38.10,111.40 25.40,112.40 14.30,114.00 7.90,113.00 7.90,108.30 9.50,103.50 14.30,100.30 17.50,95.60 17.50,90.80 14.30,84.40 11.10,78.10 6.30,73.30 1.60,70.80 9.50,72.80 19.00,73.60 31.70,71.70 38.50,69.70 43.70,67.60 43.70,64.40 44.80,60.20 46.90,57.00 51.10,55.90 55.40,53.40 60.70,52.10 64.90,51.70 68.10,49.60 68.10,47.50 69.10,42.20 71.20,40.10 74.00,39.10 76.30,37.40 74.00,34.00 74.00,31.20 77.80,31.90 80.00,31.00 83.00,29.20 82.50,26.50 83.50,24.00 86.50,22.50 86.70,19.40 84.10,15.80 83.70,13.20 87.60,7.90 92.90,6.20 99.00,5.30 105.20,4.90" fill="#DCDCDC" stroke="#ABABAB" stroke-width="0.5"/>
<polyline points="71.70,82.70 66.40,82.70 61.10,83.70 56.90,85.90 52.70,89.00 50.60,93.30 50.60,99.60 52.70,103.80 50.60,110.20 48.50,114.40 47.40,115.50" fill="none" stroke="#B8B8B8" stroke-width="0.5"/>
<polyline points="71.70,82.70 69.60,78.50 68.50,74.20 69.60,70.00 72.00,66.00 74.50,62.00 76.50,58.00 77.00,54.00" fill="none" stroke="#B8B8B8" stroke-width="0.5"/>
<polyline points="71.70,82.70 76.00,84.00 82.00,83.00 88.00,82.50 91.80,79.50" fill="none" stroke="#B8B8B8" stroke-width="0.5"/>
<polyline points="95.00,5.50 94.00,10.00 95.00,15.00 99.00,18.00 105.00,20.00 113.00,23.00 117.00,24.30" fill="none" stroke="#B8B8B8" stroke-width="0.5"/>
<polyline points="93.10,32.10 95.90,31.40 98.80,34.20 100.20,35.60 103.00,38.00 106.50,39.10" fill="none" stroke="#B8B8B8" stroke-width="0.5"/>
<polyline points="101.60,26.50 100.90,32.10 103.70,39.10" fill="none" stroke="#B8B8B8" stroke-width="0.5"/>
<polyline points="80.00,31.00 84.00,34.00 86.00,38.00 84.00,42.00 80.00,45.00 77.00,48.00 76.00,52.00 77.00,54.00 80.00,56.00" fill="none" stroke="#B8B8B8" stroke-width="0.5"/>
<polyline points="88.11,24.92 87.60,25.84 87.33,27.29 87.08,28.52 86.57,28.94 85.27,29.35 84.75,29.97 84.84,31.06 85.19,32.15 85.74,33.22 86.09,33.78 86.83,33.59 87.55,33.22 87.91,33.06 88.28,33.41 88.83,33.59 88.46,34.13 88.56,34.50 88.38,34.81 87.66,35.37 86.75,35.72" fill="none" stroke="#A8A8A8" stroke-width="0.45"/>
<polyline points="77.81,37.18 78.58,36.41 79.36,36.15 80.13,35.63 81.16,35.63 82.03,35.53 82.59,35.00 82.94,34.46 83.22,34.09 83.73,34.50 84.22,34.62 84.94,34.81 86.03,35.00 86.94,35.18" fill="none" stroke="#A8A8A8" stroke-width="0.45"/>
<polyline points="77.81,37.18 78.58,37.70 79.36,38.21 80.39,38.98 79.87,39.76 78.58,40.79 77.65,41.30 77.11,42.21 76.93,42.93 77.30,43.84 77.83,44.74 78.55,45.84 78.02,45.59 77.65,45.65 77.11,46.37 76.39,47.28 75.83,47.46 75.11,48.02 74.58,48.56 74.76,49.28 75.11,50.18 75.48,51.09 75.63,51.61 76.02,53.65 76.53,55.17 77.05,56.68 77.13,57.69 77.54,57.19 78.55,56.68 80.08,56.68 80.59,56.18 80.84,55.42 81.00,54.41 81.35,53.13 81.83,51.61 82.20,50.74 82.55,49.83 83.11,49.11 83.83,48.56 84.18,47.84 84.55,46.93 84.73,46.02 84.55,45.47 84.18,44.74 83.83,44.93 83.46,44.02 82.98,43.12 82.94,42.25 83.31,41.53 83.85,41.16 84.57,40.99 85.31,40.81 85.66,40.25 85.47,39.53 85.31,38.99 85.47,38.62 86.03,38.99 86.38,39.34 86.75,39.90 87.12,39.72 87.47,38.81 87.66,38.09 87.84,37.34 88.38,36.99 89.12,36.62 89.47,36.09 89.66,35.18 90.03,34.09 90.64,33.59 91.37,33.22 91.72,32.50 92.09,31.59 92.77,31.22 93.88,31.10 94.91,31.62 95.86,32.32 96.39,32.69 96.95,32.87 96.56,33.47 96.39,34.13 96.76,34.87 96.95,35.41" fill="none" stroke="#A8A8A8" stroke-width="0.45"/>
<polyline points="74.00,56.43 74.49,55.94 75.26,55.42 75.77,55.17 75.92,55.94 76.02,58.20 75.92,59.73 75.92,61.01 75.26,61.52 74.49,62.53 74.10,63.81 74.00,64.30" fill="none" stroke="#A8A8A8" stroke-width="0.45"/>
<polyline points="76.02,58.20 77.13,57.69" fill="none" stroke="#A8A8A8" stroke-width="0.45"/>
<polyline points="103.25,25.02 103.19,25.84 102.92,26.26 102.61,25.95 101.79,26.05 101.56,26.46 101.46,27.29 101.36,27.91 101.23,28.42 101.30,28.94 101.56,29.76 101.62,30.58 101.79,31.20 101.95,31.62 102.12,32.23 102.45,33.06 102.53,34.09 102.88,36.07 102.68,37.24 102.68,38.68 103.40,39.96 104.12,40.68 105.21,40.68 106.03,40.89 106.75,41.10" fill="none" stroke="#A8A8A8" stroke-width="0.45"/>
<polyline points="101.95,31.62 101.09,32.54 100.06,33.26 99.03,33.16 98.00,33.26 96.95,32.87" fill="none" stroke="#A8A8A8" stroke-width="0.45"/>
<rect x="75.2" y="22.7" width="43" height="56.7" fill="#FF2020" fill-opacity="0.26" stroke="#1A1A1A" stroke-width="1.4"/>
<line x1="118.7" y1="50.9" x2="150.5" y2="79.4" stroke="#000" stroke-width="1.4"/>
<polygon points="153.9,82.3 146.6,79.9 151.9,74.6" fill="#000"/>
<g transform="translate(0,131)">
<rect x="1.07" y="0" width="43.05" height="34.8" fill="#ECA8A8"/>
<polygon points="1.07,29.6 14,29.6 14.7,31 14.7,34.8 1.07,34.8" fill="#D8B2CC"/>
<polyline points="37.4,9.4 40,8.6 44.1,10.5" fill="none" stroke="#E09C9C" stroke-width="0.4"/>
<polyline points="36.8,6 39,5 41,6.5 44.1,6" fill="none" stroke="#E09C9C" stroke-width="0.4"/>
<polygon points="26.10,1.30 30.00,1.60 33.40,4.00 36.80,6.00 37.40,9.40 35.00,10.50 32.80,11.40 33.40,12.70 32.10,16.70 30.10,20.10 27.40,23.40 24.70,24.70 22.70,25.40 21.40,28.10 21.60,31.40 19.40,32.30 16.00,30.30 12.00,29.60 5.30,28.90 4.70,26.70 2.70,22.70 8.00,20.70 12.70,19.40 14.70,16.70 16.70,15.40 18.70,14.70 20.10,12.70 22.10,10.00 23.40,7.40 24.10,4.70 24.70,2.70" fill="#FAC0A4"/>
<polyline points="24.1,4.7 27,5.5 30,7 33,8 36,9" fill="none" stroke="#F0B49A" stroke-width="0.4"/>
<polygon points="26.70,7.40 30.10,9.40 32.10,12.00 31.40,15.40 29.40,18.70 26.70,21.40 24.10,23.40 22.10,23.40 21.10,22.10 22.10,18.10 23.40,14.70 24.70,11.40 25.40,8.70" fill="#FFFFFF"/>
<circle cx="28.5" cy="8.7" r="2.0" fill="none" stroke="#F01010" stroke-width="0.9"/>
</g>
<g transform="translate(0,181.6)">
<rect x="1.07" y="0" width="43.05" height="34.8" fill="#ECA8A8"/>
<polygon points="1.07,29.6 14,29.6 14.7,31 14.7,34.8 1.07,34.8" fill="#D8B2CC"/>
<polyline points="37.4,9.4 40,8.6 44.1,10.5" fill="none" stroke="#E09C9C" stroke-width="0.4"/>
<polyline points="36.8,6 39,5 41,6.5 44.1,6" fill="none" stroke="#E09C9C" stroke-width="0.4"/>
<polygon points="26.10,1.30 30.00,1.60 33.40,4.00 36.80,6.00 37.40,9.40 35.00,10.50 32.80,11.40 33.40,12.70 32.10,16.70 30.10,20.10 27.40,23.40 24.70,24.70 22.70,25.40 21.40,28.10 21.60,31.40 19.40,32.30 16.00,30.30 12.00,29.60 5.30,28.90 4.70,26.70 2.70,22.70 8.00,20.70 12.70,19.40 14.70,16.70 16.70,15.40 18.70,14.70 20.10,12.70 22.10,10.00 23.40,7.40 24.10,4.70 24.70,2.70" fill="#FAC0A4"/>
<polyline points="24.1,4.7 27,5.5 30,7 33,8 36,9" fill="none" stroke="#F0B49A" stroke-width="0.4"/>
<polygon points="26.70,8.00 28.70,8.70 30.10,10.70 32.80,11.40 32.10,13.40 30.10,16.70 28.10,20.10 25.40,22.70 22.70,23.70 20.70,22.70 20.10,20.70 21.40,16.70 22.70,12.70 24.10,10.00 25.40,8.40" fill="#008C00"/>

</g>
<g transform="translate(0,223.6)">
<rect x="1.07" y="0" width="43.05" height="34.8" fill="#ECA8A8"/>
<polygon points="1.07,29.6 14,29.6 14.7,31 14.7,34.8 1.07,34.8" fill="#D8B2CC"/>
<polyline points="37.4,9.4 40,8.6 44.1,10.5" fill="none" stroke="#E09C9C" stroke-width="0.4"/>
<polyline points="36.8,6 39,5 41,6.5 44.1,6" fill="none" stroke="#E09C9C" stroke-width="0.4"/>
<polygon points="26.10,1.30 30.00,1.60 33.40,4.00 36.80,6.00 37.40,9.40 35.00,10.50 32.80,11.40 33.40,12.70 32.10,16.70 30.10,20.10 27.40,23.40 24.70,24.70 22.70,25.40 21.40,28.10 21.60,31.40 19.40,32.30 16.00,30.30 12.00,29.60 5.30,28.90 4.70,26.70 2.70,22.70 8.00,20.70 12.70,19.40 14.70,16.70 16.70,15.40 18.70,14.70 20.10,12.70 22.10,10.00 23.40,7.40 24.10,4.70 24.70,2.70" fill="#FAC0A4"/>
<polyline points="24.1,4.7 27,5.5 30,7 33,8 36,9" fill="none" stroke="#F0B49A" stroke-width="0.4"/>
<polygon points="27.40,1.10 26.10,3.10 26.70,5.10 28.70,6.40 28.10,8.40 26.10,9.10 24.70,11.10 24.10,13.80 22.70,15.10 20.70,14.40 20.10,11.80 21.40,9.80 23.40,8.40 24.10,5.80 24.10,3.10 25.40,1.40" fill="#FFFF00"/>

</g>
<text x="0.9" y="172.6" font-size="5.8" fill="#000">Islamabad</text>
<text x="0.9" y="179.5" font-size="5.8" fill="#000">Capital Territory</text>
<text x="0" y="222.3" font-size="5.8" fill="#000">Punjab</text>
<text x="0.9" y="265.4" font-size="5.8" fill="#000">Khyber Pakhtunkhwa</text>
<text x="59.3" y="138.2" font-size="8.3" fill="#000">Location</text>
<rect x="59.3" y="139" width="31.2" height="0.8" fill="#000"/>
<circle cx="60.9" cy="146.30" r="1.85" fill="#C88C6E"/>
<text transform="translate(68.0,148.30) scale(0.955,1)" font-size="4.5" fill="#111" stroke="#111" stroke-width="0.1" textLength="26.2" lengthAdjust="spacingAndGlyphs">Abbotabad</text>
<circle cx="104" cy="146.30" r="1.85" fill="#FFCDD7"/>
<text transform="translate(111.0,148.30) scale(0.955,1)" font-size="4.5" fill="#111" stroke="#111" stroke-width="0.1">Kohat</text>
<circle cx="60.9" cy="154.53" r="1.85" fill="#E164C8"/>
<text transform="translate(68.0,156.53) scale(0.955,1)" font-size="4.5" fill="#111" stroke="#111" stroke-width="0.1">Attock</text>
<circle cx="104" cy="154.53" r="1.85" fill="#8CA573"/>
<text transform="translate(111.0,156.53) scale(0.955,1)" font-size="4.5" fill="#111" stroke="#111" stroke-width="0.1">Layyah</text>
<circle cx="60.9" cy="162.76" r="1.85" fill="#82D782"/>
<text transform="translate(68.0,164.76) scale(0.955,1)" font-size="4.5" fill="#111" stroke="#111" stroke-width="0.1">Azad Kashmir</text>
<circle cx="104" cy="162.76" r="1.85" fill="#F06E78"/>
<text transform="translate(111.0,164.76) scale(0.955,1)" font-size="4.5" fill="#111" stroke="#111" stroke-width="0.1">Mandi Bahudin</text>
<circle cx="60.9" cy="170.99" r="1.85" fill="#FFD7B9"/>
<text transform="translate(68.0,172.99) scale(0.955,1)" font-size="4.5" fill="#111" stroke="#111" stroke-width="0.1">Bahwalpur</text>
<circle cx="104" cy="170.99" r="1.85" fill="#BEF5F5"/>
<text transform="translate(111.0,172.99) scale(0.955,1)" font-size="4.5" fill="#111" stroke="#111" stroke-width="0.1">Mansehra</text>
<circle cx="60.9" cy="179.22" r="1.85" fill="#789BE6"/>
<text transform="translate(68.0,181.22) scale(0.955,1)" font-size="4.5" fill="#111" stroke="#111" stroke-width="0.1">Chakri</text>
<circle cx="104" cy="179.22" r="1.85" fill="#82BEBE"/>
<text transform="translate(111.0,181.22) scale(0.955,1)" font-size="4.5" fill="#111" stroke="#111" stroke-width="0.1">Multan</text>
<circle cx="60.9" cy="187.45" r="1.85" fill="#B9B9B9"/>
<text transform="translate(68.0,189.45) scale(0.955,1)" font-size="4.5" fill="#111" stroke="#111" stroke-width="0.1">Chakwal</text>
<circle cx="104" cy="187.45" r="1.85" fill="#AF6EF5"/>
<text transform="translate(111.0,189.45) scale(0.955,1)" font-size="4.5" fill="#111" stroke="#111" stroke-width="0.1">Murree</text>
<circle cx="60.9" cy="195.68" r="1.85" fill="#C3F5D2"/>
<text transform="translate(68.0,197.68) scale(0.955,1)" font-size="4.5" fill="#111" stroke="#111" stroke-width="0.1">Dera Ghazi Khan</text>
<circle cx="104" cy="195.68" r="1.85" fill="#CD6E6E"/>
<text transform="translate(111.0,197.68) scale(0.955,1)" font-size="4.5" fill="#111" stroke="#111" stroke-width="0.1">Narowal</text>
<circle cx="60.9" cy="203.91" r="1.85" fill="#F5C3F5"/>
<text transform="translate(68.0,205.91) scale(0.955,1)" font-size="4.5" fill="#111" stroke="#111" stroke-width="0.1">Faisalabad</text>
<circle cx="104" cy="203.91" r="1.85" fill="#FFFF82"/>
<text transform="translate(111.0,205.91) scale(0.955,1)" font-size="4.5" fill="#111" stroke="#111" stroke-width="0.1">Rawalpindi</text>
<circle cx="60.9" cy="212.14" r="1.85" fill="#BEAF82"/>
<text transform="translate(68.0,214.14) scale(0.955,1)" font-size="4.5" fill="#111" stroke="#111" stroke-width="0.1">Haripur</text>
<circle cx="104" cy="212.14" r="1.85" fill="#F06E6E"/>
<text transform="translate(111.0,214.14) scale(0.955,1)" font-size="4.5" fill="#111" stroke="#111" stroke-width="0.1">Sargodha</text>
<circle cx="60.9" cy="220.37" r="1.85" fill="#C3E182"/>
<text transform="translate(68.0,222.37) scale(0.955,1)" font-size="4.5" fill="#111" stroke="#111" stroke-width="0.1">Islamabad</text>
<circle cx="104" cy="220.37" r="1.85" fill="#F58273"/>
<text transform="translate(111.0,222.37) scale(0.955,1)" font-size="4.5" fill="#111" stroke="#111" stroke-width="0.1">Sialkot</text>
<circle cx="60.9" cy="228.60" r="1.85" fill="#DC6EC3"/>
<text transform="translate(68.0,230.60) scale(0.955,1)" font-size="4.5" fill="#111" stroke="#111" stroke-width="0.1">Jehlum</text>
<circle cx="104" cy="228.60" r="1.85" fill="#F58C6E"/>
<text transform="translate(111.0,230.60) scale(0.955,1)" font-size="4.5" fill="#111" stroke="#111" stroke-width="0.1">Swabi</text>
<circle cx="60.9" cy="236.83" r="1.85" fill="#A06EB4"/>
<text transform="translate(68.0,238.83) scale(0.955,1)" font-size="4.5" fill="#111" stroke="#111" stroke-width="0.1">Karak</text>
<circle cx="104" cy="236.83" r="1.85" fill="#F5A078"/>
<text transform="translate(111.0,238.83) scale(0.955,1)" font-size="4.5" fill="#111" stroke="#111" stroke-width="0.1">Talgang</text>
<circle cx="60.9" cy="245.06" r="1.85" fill="#8296C8"/>
<text transform="translate(68.0,247.06) scale(0.955,1)" font-size="4.5" fill="#111" stroke="#111" stroke-width="0.1">Khanewal</text>
<circle cx="104" cy="245.06" r="1.85" fill="#F5AF82"/>
<text transform="translate(111.0,247.06) scale(0.955,1)" font-size="4.5" fill="#111" stroke="#111" stroke-width="0.1">Taxila</text>
<circle cx="60.9" cy="253.29" r="1.85" fill="#FAC38C"/>
<text transform="translate(68.0,255.29) scale(0.955,1)" font-size="4.5" fill="#111" stroke="#111" stroke-width="0.1">Khushab</text>
<circle cx="104" cy="253.29" r="1.85" fill="#FAC396"/>
<text transform="translate(111.0,255.29) scale(0.955,1)" font-size="4.5" fill="#111" stroke="#111" stroke-width="0.1">Toba Tek Singh</text>
</g>
</svg></body></html>
